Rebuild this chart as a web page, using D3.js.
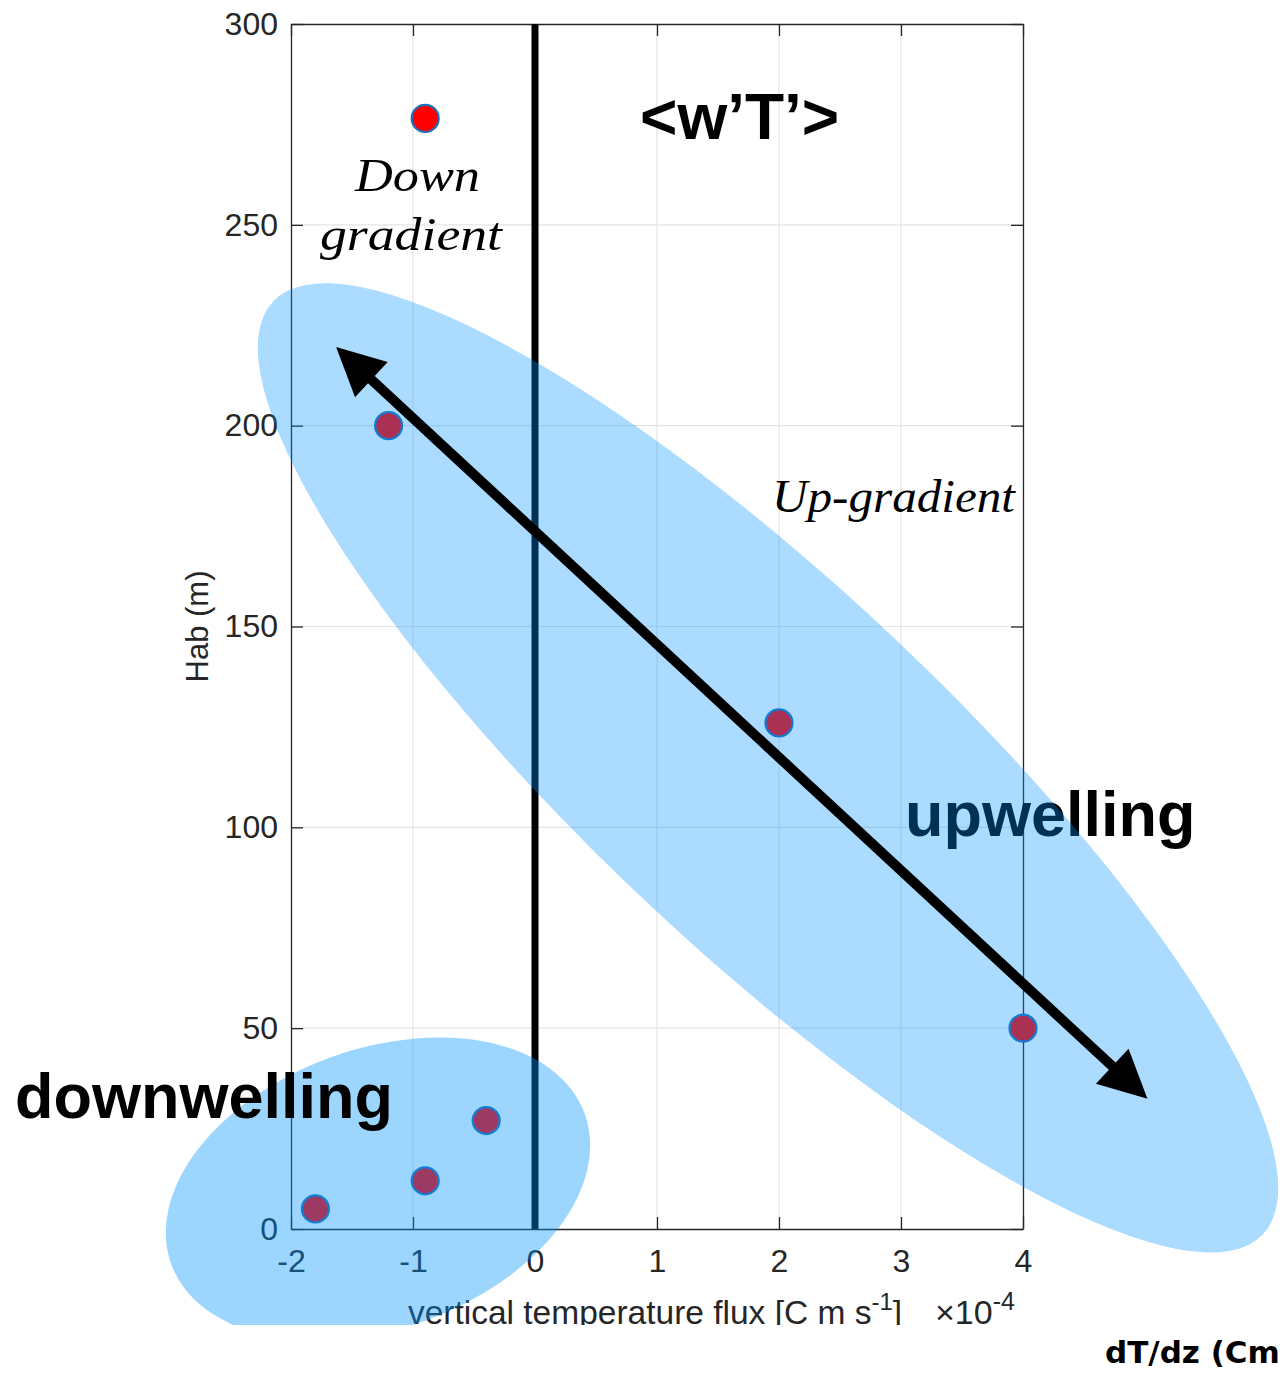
<!DOCTYPE html>
<html><head><meta charset="utf-8">
<script src="https://cdn.jsdelivr.net/npm/d3@7"></script>
<style>body{margin:0;background:#fff} svg{display:block}</style>
</head><body>
<svg id="chart" width="1284" height="1373"></svg>
<script>
// ---- data ----
const xTicks = [-2, -1, 0, 1, 2, 3, 4];
const yTicks = [0, 50, 100, 150, 200, 250, 300];
const fluxValues = [-0.9, -1.2, 2.0, 4.0, -0.4, -0.9, -1.8];   // x10^-4
const habValues  = [276.5, 200, 126, 50, 27, 12, 5];
const arrowTail = [-1.63, 219.6];
const arrowHead = [5.02, 32.4];
const upEllipseCenter = [1.91, 114.8];
const downEllipseCenter = [-1.287, 9.96];

// ---- layout ----
const svg = d3.select("#chart");
const x = d3.scaleLinear().domain([-2, 4]).range([291, 1023]);
const y = d3.scaleLinear().domain([0, 300]).range([1229, 24]);
const axisColor = "#262626";
const tickFont = "'Liberation Sans', Arial, Helvetica, sans-serif";

svg.append("defs").append("clipPath").attr("id", "imgclip")
  .append("rect").attr("x", 0).attr("y", 0).attr("width", 1284).attr("height", 1325);

const g = svg.append("g").attr("clip-path", "url(#imgclip)");

// grid
g.append("g").selectAll("line").data(xTicks.slice(1, -1)).join("line")
  .attr("x1", d => x(d)).attr("x2", d => x(d)).attr("y1", y(300)).attr("y2", y(0))
  .attr("stroke", "#e4e4e4").attr("stroke-width", 1.2);
g.append("g").selectAll("line").data(yTicks.slice(1, -1)).join("line")
  .attr("y1", d => y(d)).attr("y2", d => y(d)).attr("x1", x(-2)).attr("x2", x(4))
  .attr("stroke", "#e4e4e4").attr("stroke-width", 1.2);

// axes
const ax = g.append("g");
const axBottom = ax.append("g").attr("transform", `translate(0,${y(0)})`)
  .call(d3.axisBottom(x).tickValues(xTicks).tickSizeInner(-12).tickSizeOuter(0).tickPadding(20));
const axLeft = ax.append("g").attr("transform", `translate(${x(-2)},0)`)
  .call(d3.axisLeft(y).tickValues(yTicks).tickSizeInner(-12).tickSizeOuter(0).tickPadding(13));
const axTop = ax.append("g").attr("transform", `translate(0,${y(300)})`)
  .call(d3.axisTop(x).tickValues(xTicks).tickSizeInner(-12).tickSizeOuter(0).tickFormat(""));
const axRight = ax.append("g").attr("transform", `translate(${x(4)},0)`)
  .call(d3.axisRight(y).tickValues(yTicks).tickSizeInner(-12).tickSizeOuter(0).tickFormat(""));
ax.selectAll(".domain").attr("stroke", axisColor).attr("stroke-width", 1.3);
ax.selectAll(".tick line").attr("stroke", axisColor).attr("stroke-width", 1.3);
ax.selectAll(".tick text").attr("fill", axisColor).attr("font-size", 32).attr("font-family", tickFont);
axBottom.selectAll(".tick text").text(d => d < 0 ? "-" + Math.abs(d) : d);

// axis labels
g.append("text").attr("transform", `translate(208,${(y(0)+y(300))/2}) rotate(-90)`)
  .attr("text-anchor", "middle").attr("font-family", tickFont).attr("font-size", 31)
  .attr("fill", axisColor).text("Hab (m)");
const xl = g.append("text").attr("x", 655).attr("y", 1324).attr("text-anchor", "middle")
  .attr("font-family", tickFont).attr("font-size", 33.5).attr("fill", axisColor);
xl.append("tspan").text("vertical temperature flux [C m s");
xl.append("tspan").attr("dy", -14).attr("font-size", 24).text("-1");
xl.append("tspan").attr("dy", 14).text("]");
const ex = g.append("text").attr("x", 935).attr("y", 1324)
  .attr("font-family", tickFont).attr("font-size", 34).attr("fill", axisColor);
ex.append("tspan").text("\u00d710");
ex.append("tspan").attr("dy", -14).attr("font-size", 25).text("-4");

// zero line
g.append("line").attr("x1", x(0)).attr("x2", x(0)).attr("y1", y(300)).attr("y2", y(0))
  .attr("stroke", "#000").attr("stroke-width", 7);

// points
g.append("g").selectAll("circle").data(fluxValues.map((v, i) => [v, habValues[i]])).join("circle")
  .attr("cx", d => x(d[0])).attr("cy", d => y(d[1])).attr("r", 13.5)
  .attr("fill", "#ff0000").attr("stroke", "#1f6fb8").attr("stroke-width", 2.2);

// upwelling text (under ellipse)
const boldFont = "'Liberation Sans', Arial, Helvetica, sans-serif";
g.append("text").attr("x", 905).attr("y", 836).attr("font-family", boldFont)
  .attr("font-weight", "bold").attr("font-size", 63).attr("fill", "#000").text("upwelling");

// ellipses
g.append("ellipse")
  .attr("transform", `translate(${x(upEllipseCenter[0])},${y(upEllipseCenter[1])}) rotate(43.3)`)
  .attr("rx", 680).attr("ry", 181).attr("fill", "rgb(0,150,255)").attr("fill-opacity", 0.33);
g.append("ellipse")
  .attr("transform", `translate(${x(downEllipseCenter[0])},${y(downEllipseCenter[1])}) rotate(-20)`)
  .attr("rx", 220).attr("ry", 140).attr("fill", "rgb(0,150,255)").attr("fill-opacity", 0.39);

// double arrow
const p0 = [x(arrowTail[0]), y(arrowTail[1])];
const p1 = [x(arrowHead[0]), y(arrowHead[1])];
const ddx = p1[0] - p0[0], ddy = p1[1] - p0[1], L = Math.hypot(ddx, ddy);
const ux = ddx / L, uy = ddy / L, nx = -uy, ny = ux;
const hl = 48, hw = 24;
g.append("line")
  .attr("x1", p0[0] + ux * (hl - 4)).attr("y1", p0[1] + uy * (hl - 4))
  .attr("x2", p1[0] - ux * (hl - 4)).attr("y2", p1[1] - uy * (hl - 4))
  .attr("stroke", "#000").attr("stroke-width", 10);
function head(tip, dir) {
  const bx = tip[0] + dir * ux * hl, by = tip[1] + dir * uy * hl;
  return [[tip[0], tip[1]], [bx + nx * hw, by + ny * hw], [bx - nx * hw, by - ny * hw]];
}
g.append("g").selectAll("path").data([head(p0, 1), head(p1, -1)]).join("path")
  .attr("d", d => d3.line()(d) + "Z").attr("fill", "#000");

// annotations
g.append("text").attr("x", 15).attr("y", 1118).attr("font-family", boldFont)
  .attr("font-weight", "bold").attr("font-size", 63).attr("fill", "#000").text("downwelling");
g.append("text").attr("x", 640).attr("y", 139).attr("font-family", boldFont)
  .attr("font-weight", "bold").attr("font-size", 64).attr("fill", "#000").text("<w\u2019T\u2019>");
const scriptFont = "'Liberation Serif', 'DejaVu Serif', serif";
g.append("text").attr("x", 355).attr("y", 191).attr("font-family", scriptFont).attr("font-style", "italic")
  .attr("font-size", 46).attr("textLength", 125).attr("lengthAdjust", "spacingAndGlyphs").text("Down");
g.append("text").attr("x", 320).attr("y", 250).attr("font-family", scriptFont).attr("font-style", "italic")
  .attr("font-size", 46).attr("textLength", 182).attr("lengthAdjust", "spacingAndGlyphs").text("gradient");
g.append("text").attr("x", 772).attr("y", 512).attr("font-family", scriptFont).attr("font-style", "italic")
  .attr("font-size", 46).attr("textLength", 243).attr("lengthAdjust", "spacingAndGlyphs").text("Up-gradient");

// outside label
svg.append("text").attr("x", 1105).attr("y", 1363).attr("font-family", "'DejaVu Sans', Verdana, sans-serif")
  .attr("font-weight", "bold").attr("font-size", 31).attr("fill", "#000").text("dT/dz (Cm");
</script>
</body></html>
